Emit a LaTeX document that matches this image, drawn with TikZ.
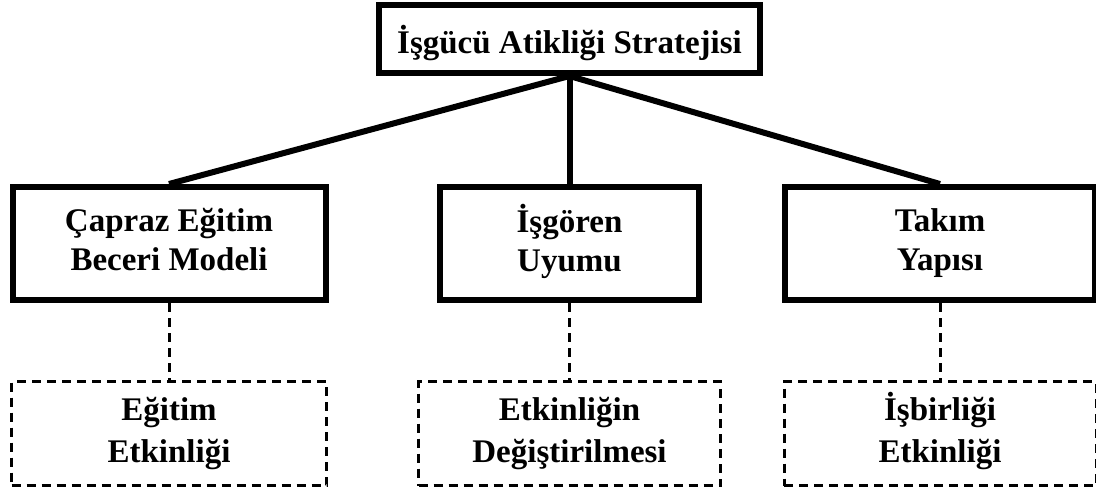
\documentclass[tikz,border=0pt]{standalone}
\usepackage{fontspec}
\setmainfont{Liberation Serif}
% two centred lines with a strut on each, so every box places its baselines alike
\newcommand\twolines[2]{\strut #1\\#2\strut}
\begin{document}
\begin{tikzpicture}[x=1pt,y=-1pt,
  solidbox/.style={draw=black, line width=6pt, inner sep=0pt, align=center,
    font=\fontsize{33}{39}\selectfont\bfseries},
  dashbox/.style={draw=black, line width=3pt, dash pattern=on 9pt off 6pt,
    inner sep=0pt, align=center, font=\fontsize{33}{42}\selectfont\bfseries},
  link/.style={draw=black, line width=6pt},
  dashlink/.style={draw=black, line width=3pt, dash pattern=on 9pt off 6pt}]
  \useasboundingbox (0,0) rectangle (1096,488);

  % root
  \node[solidbox, minimum width=381pt, minimum height=68pt,
        text height=30pt, text depth=2pt] (root) at (569.5,39) {İşgücü Atikliği Stratejisi};

  % second level
  \node[solidbox, minimum width=313pt, minimum height=113pt] (cross) at (169,243.5) {\twolines{Çapraz Eğitim}{Beceri Modeli}};
  \node[solidbox, minimum width=259pt, minimum height=113pt] (fit) at (569.5,243.5) {\twolines{İşgören}{Uyumu}};
  \node[solidbox, minimum width=310pt, minimum height=113pt] (team) at (940,243.5) {\twolines{Takım}{Yapısı}};

  % third level
  \node[dashbox, minimum width=315pt, minimum height=104pt] (train) at (169,433.5) {\twolines{Eğitim}{Etkinliği}};
  \node[dashbox, minimum width=302pt, minimum height=104pt] (change) at (569.5,433.5) {\twolines{Etkinliğin}{Değiştirilmesi}};
  \node[dashbox, minimum width=312pt, minimum height=104pt] (coop) at (940,433.5) {\twolines{İşbirliği}{Etkinliği}};

  % connectors
  \draw[link] (root.south) -- (cross.north);
  \draw[link] (root.south) -- (fit.north);
  \draw[link] (root.south) -- (team.north);
  \draw[dashlink] (cross.south) -- (train.north);
  \draw[dashlink] (fit.south) -- (change.north);
  \draw[dashlink] (team.south) -- (coop.north);
\end{tikzpicture}
\end{document}
